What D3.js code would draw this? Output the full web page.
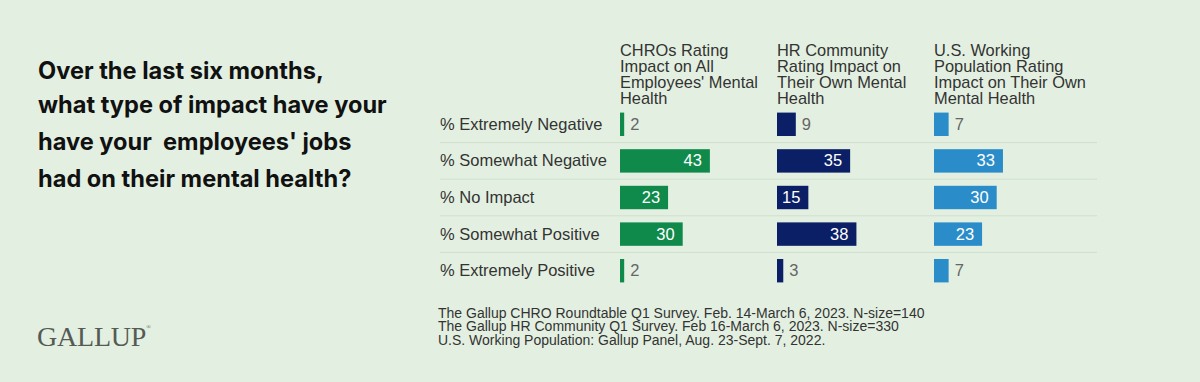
<!DOCTYPE html>
<html>
<head>
<meta charset="utf-8">
<script src="https://cdn.jsdelivr.net/npm/d3@7/dist/d3.min.js"></script>
<style>
  html, body { margin: 0; padding: 0; background: #e3f0e1; }
  svg { display: block; }
</style>
</head>
<body>
<svg id="chart" width="1200" height="382"></svg>
<script>
// ---- Data ----
const categories = ["% Extremely Negative", "% Somewhat Negative", "% No Impact", "% Somewhat Positive", "% Extremely Positive"];
const seriesNames = ["CHROs", "HR Community", "U.S. Working Population"];
const seriesHeaders = [
  ["CHROs Rating", "Impact on All", "Employees' Mental", "Health"],
  ["HR Community", "Rating Impact on", "Their Own Mental", "Health"],
  ["U.S. Working", "Population Rating", "Impact on Their Own", "Mental Health"]
];
const chroValues = [2, 43, 23, 30, 2];
const hrValues = [9, 35, 15, 38, 3];
const usValues = [7, 33, 30, 23, 7];
const titleLines = ["Over the last six months,", "what type of impact have your", "have your  employees' jobs", "had on their mental health?"];
const footnotes = [
  "The Gallup CHRO Roundtable Q1 Survey. Feb. 14-March 6, 2023. N-size=140",
  "The Gallup HR Community Q1 Survey. Feb 16-March 6, 2023. N-size=330",
  "U.S. Working Population: Gallup Panel, Aug. 23-Sept. 7, 2022."
];
const seriesValues = [chroValues, hrValues, usValues];
const seriesColors = ["#0f8a4b", "#0b1f66", "#2a8dc9"];

const sans = "'Liberation Sans', Arial, sans-serif";

// ---- Layout ----
const svg = d3.select("#chart");
svg.append("rect").attr("width", 1200).attr("height", 382).attr("fill", "#e3f0e1");

// Title
const titleY = [79, 113, 150, 187];
svg.append("g").selectAll("text").data(titleLines).join("text")
  .attr("x", 38).attr("y", (d, i) => titleY[i])
  .style("font-family", "Inter, 'Liberation Sans', sans-serif")
  .style("font-size", "23.6px").style("font-weight", "700").attr("fill", "#111")
  .style("white-space", "pre")
  .attr("xml:space", "preserve")
  .text(d => d);

// Gallup logo
const logo = svg.append("text").attr("x", 37).attr("y", 346)
  .style("font-family", "'Liberation Serif', 'Times New Roman', serif")
  .style("font-size", "28px").attr("fill", "#555a55").attr("letter-spacing", -0.2);
logo.append("tspan").text("GALLUP");
logo.append("tspan").style("font-size", "6px").attr("dy", -17).text("®");

// Scales
const y = d3.scaleBand().domain(categories).range([106, 289]).paddingInner(0.36).paddingOuter(0.18);
const x = d3.scaleLinear().domain([0, 100]).range([0, 209]);
const colX = d3.scalePoint().domain(seriesNames).range([620, 934]);

// Separators
const step = y.step();
svg.append("g").selectAll("line").data(categories.slice(0, -1)).join("line")
  .attr("x1", 440).attr("x2", 1097)
  .attr("y1", d => y(d) + y.bandwidth() + (step - y.bandwidth()) / 2)
  .attr("y2", d => y(d) + y.bandwidth() + (step - y.bandwidth()) / 2)
  .attr("stroke", "#cfdfcd").attr("stroke-width", 1);

// Row labels
svg.append("g").selectAll("text").data(categories).join("text")
  .attr("x", 440).attr("y", d => y(d) + y.bandwidth() / 2 + 5.5)
  .style("font-family", sans).style("font-size", "16.5px").attr("fill", "#333")
  .text(d => d);

// Column headers
const hdrY = [56, 72, 88, 103.5];
seriesNames.forEach((s, si) => {
  svg.append("g").selectAll("text").data(seriesHeaders[si]).join("text")
    .attr("x", colX(s)).attr("y", (d, i) => hdrY[i])
    .style("font-family", sans).style("font-size", "16.4px").attr("fill", "#333")
    .text(d => d);
});

// Bars
seriesNames.forEach((s, si) => {
  const g = svg.append("g").attr("transform", `translate(${colX(s)},0)`);
  const data = categories.map((c, i) => ({ c, v: seriesValues[si][i] }));
  g.selectAll("rect").data(data).join("rect")
    .attr("x", 0).attr("y", d => y(d.c))
    .attr("width", d => x(d.v)).attr("height", y.bandwidth())
    .attr("fill", seriesColors[si]);
  g.selectAll("text").data(data).join("text")
    .attr("x", d => d.v >= 12 ? x(d.v) - 8 : x(d.v) + 6)
    .attr("y", d => y(d.c) + y.bandwidth() / 2 + 5.5)
    .attr("text-anchor", d => d.v >= 12 ? "end" : "start")
    .style("font-family", sans).style("font-size", "16.5px")
    .attr("fill", d => d.v >= 12 ? "#ffffff" : "#666")
    .text(d => d.v);
});

// Footnotes
svg.append("g").selectAll("text").data(footnotes).join("text")
  .attr("x", 438).attr("y", (d, i) => 317.5 + i * 13.5)
  .style("font-family", sans).style("font-size", "14px").attr("fill", "#333")
  .text(d => d);
</script>
</body>
</html>
